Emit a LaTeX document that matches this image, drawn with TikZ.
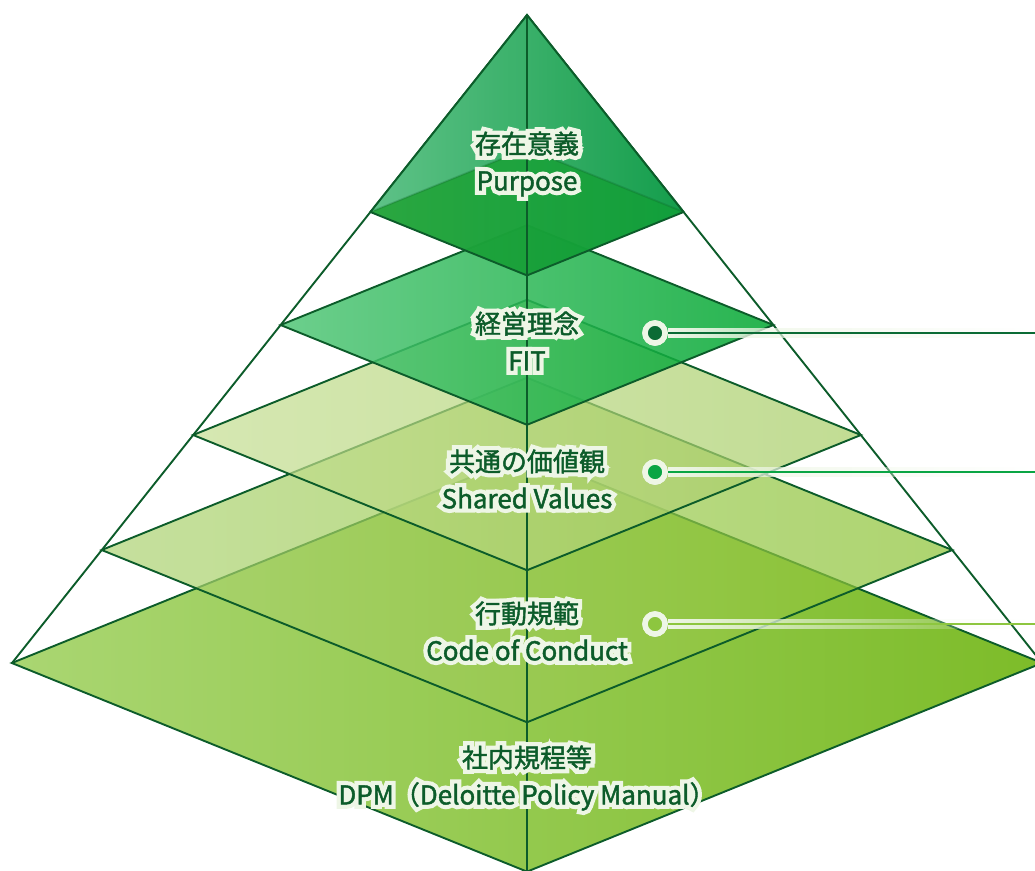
\documentclass[tikz,border=0pt]{standalone}
\usepackage{fontspec}
\setmainfont{Noto Sans CJK JP}
\newfontfamily\labelfont{Noto Sans CJK JP}[FakeBold=1.6]
\newfontfamily\glowfont{Noto Sans CJK JP}[FakeBold=34]
\usetikzlibrary{fadings}

\definecolor{edgegreen}{HTML}{0C5C2A}
\definecolor{glowwhite}{HTML}{EEF6E6}
\definecolor{dpmL}{HTML}{AAD672}
\definecolor{dpmR}{HTML}{7DBC29}
\definecolor{conductL}{HTML}{ADD374}
\definecolor{conductR}{HTML}{8BC233}
\definecolor{valuesL}{HTML}{C4DE91}
\definecolor{valuesR}{HTML}{A7CD66}
\definecolor{fitL}{HTML}{52C678}
\definecolor{fitR}{HTML}{02A731}
\definecolor{tipL}{HTML}{51BD7D}
\definecolor{tipR}{HTML}{00953C}
\definecolor{purposeL}{HTML}{159C22}
\definecolor{purposeR}{HTML}{10A035}
\definecolor{fitdot}{HTML}{0B6B35}
\definecolor{valuesdot}{HTML}{0AA544}
\definecolor{conductdot}{HTML}{8DC63F}

\tikzfading[name=halofade, left color=transparent!0, middle color=transparent!15, right color=transparent!100]

\newcommand\glow[1]{\leavevmode\rlap{\glowfont\textcolor{glowwhite}{#1}}#1}

\tikzset{
  layer edge/.style={draw=edgegreen, line width=1.9pt, line join=miter},
  layer label/.style={text=edgegreen, align=center, inner sep=0pt, font=\labelfont\fontsize{26}{37}\selectfont},
  dotmark/.style={circle, draw=glowwhite, line width=5.5pt, minimum size=20pt, inner sep=0pt},
  halo/.style={fill=glowwhite, path fading=halofade},
  leader/.style={line width=1.6pt}
}

\begin{document}
\begin{tikzpicture}[x=1pt,y=-1pt]
\useasboundingbox (0,0) rectangle (1035,870);
\clip (0,0) rectangle (1035,870);
\coordinate (apex) at (527,15);
\draw[layer edge] (12,663) -- (apex) -- (1042,663);
\foreach \y/\lc/\rc/\op [count=\i] in {663/dpmL/dpmR/1, 550/conductL/conductR/0.7, 435/valuesL/valuesR/0.7, 325/fitL/fitR/0.85}{
  \pgfmathsetmacro\halfw{0.795*(\y-15)}
  \pgfmathsetmacro\depthd{0.405*\halfw}
  \coordinate (left\i) at (527-\halfw,\y);
  \coordinate (front\i) at (527,\y+\depthd);
  \coordinate (right\i) at (527+\halfw,\y);
  \coordinate (back\i) at (527,\y-\depthd);
  \shade[left color=\lc, right color=\rc, fill opacity=\op] (left\i) -- (front\i) -- (right\i) -- (back\i) -- cycle;
  \draw[layer edge] (left\i) -- (front\i) -- (right\i) -- (back\i) -- cycle;
}
\pgfmathsetmacro\halfw{0.795*197}
\pgfmathsetmacro\depthd{0.405*\halfw}
\coordinate (left5) at (527-\halfw,212);
\coordinate (front5) at (527,212+\depthd);
\coordinate (right5) at (527+\halfw,212);
\coordinate (back5) at (527,212-\depthd);
\shade[left color=tipL, right color=tipR, fill opacity=0.92] (apex) -- (left5) -- (front5) -- (right5) -- cycle;
\shade[left color=purposeL, right color=purposeR, fill opacity=0.7] (left5) -- (front5) -- (right5) -- (back5) -- cycle;
\draw[layer edge, draw opacity=0.25] (left5) -- (back5) -- (right5);
\draw[layer edge] (left5) -- (apex) -- (right5) -- (front5) -- cycle;
\draw[layer edge] (apex) -- (front1);

\node[dotmark, fill=fitdot] (fitdot) at (655,333) {};
\node[dotmark, fill=valuesdot] (valuesdot) at (655,472) {};
\node[dotmark, fill=conductdot] (conductdot) at (655,624) {};
\coordinate (fitend) at (1035,333);
\coordinate (valuesend) at (1035,472);
\coordinate (conductend) at (1035,624);
\foreach \d in {fit,values,conduct}{
  \fill[halo] ([yshift=5pt]\d dot.east) rectangle ([yshift=-5pt]\d end);
  \draw[leader, \d dot] (\d dot.east) -- (\d end);
  \node[dotmark, fill=\d dot] at (\d dot) {};
}

\node[layer label] (purpose) at (527,164) {\glow{存在意義}\\\glow{Purpose}};
\node[layer label] (fit) at (527,341) {\glow{経営理念}\\\glow{FIT}};
\node[layer label] (values) at (527,479) {\glow{共通の価値観}\\\glow{Shared Values}};
\node[layer label] (conduct) at (527,631) {\glow{行動規範}\\\glow{Code of Conduct}};
\node[layer label] (dpm) at (527,778) {\glow{社内規程等}\\\glow{DPM（Deloitte Policy Manual）}};
\end{tikzpicture}
\end{document}
